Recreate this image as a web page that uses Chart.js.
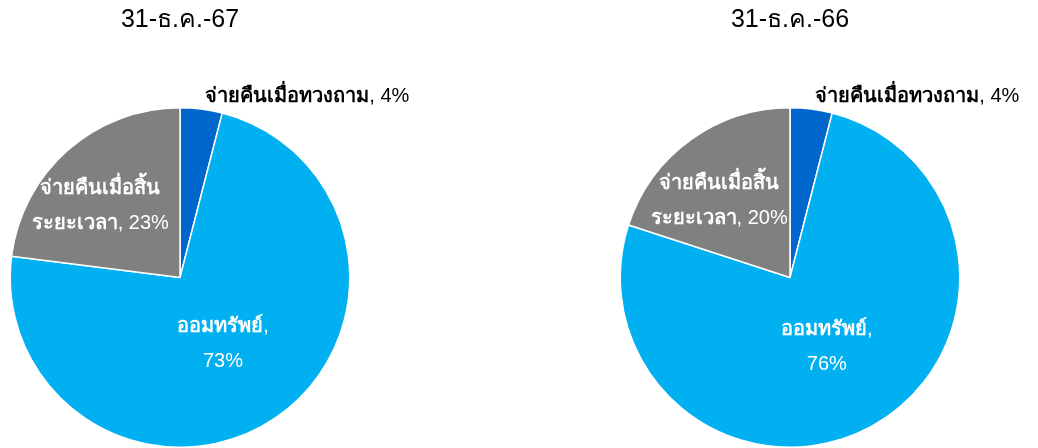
<!DOCTYPE html>
<html>
<head>
<meta charset="utf-8">
<script src="https://cdn.jsdelivr.net/npm/chart.js@4"></script>
<style>
  body { margin: 0; background: #fff; }
  .box { position: absolute; top: 0; width: 519px; height: 448px; }
</style>
</head>
<body>
<div class="box" style="left:0"><canvas id="pie67"></canvas></div>
<div class="box" style="left:519px"><canvas id="pie66"></canvas></div>
<script>
const categories = ["จ่ายคืนเมื่อทวงถาม", "ออมทรัพย์", "จ่ายคืนเมื่อสิ้นระยะเวลา"];
const titles = ["31-ธ.ค.-67", "31-ธ.ค.-66"];
const values67 = [4, 73, 23];
const values66 = [4, 76, 20];
const colors = ["#0066CC", "#00B0F0", "#808080"];

const FONT = "'Liberation Sans', Arial, 'Noto Sans', sans-serif";

// how each label is broken into lines: [text, bold]; "%" marks where the value goes
const labelLayout = [
  [[["จ่ายคืนเมื่อทวงถาม", true], [", %", false]]],
  [[["ออมทรัพย์", true], [",", false]], [["%", false]]],
  [[["จ่ายคืนเมื่อสิ้น", true]], [["ระยะเวลา", true], [", %", false]]]
];
// where the label sits (fraction of radius, x and y) ; null = outside
const labelPos = [null, [0.45, 0.47], [0.71, 0.56]];

function segFont(bold) {
  return (bold ? "bold " : "") + "20px " + FONT;
}

const sliceLabels = {
  id: "sliceLabels",
  afterDatasetsDraw(chart) {
    const ctx = chart.ctx;
    const meta = chart.getDatasetMeta(0);
    const values = chart.data.datasets[0].data;
    ctx.save();
    ctx.textBaseline = "middle";
    ctx.textAlign = "left";
    meta.data.forEach((arc, i) => {
      const p = arc.getProps(["x", "y", "startAngle", "endAngle", "outerRadius"]);
      const mid = (p.startAngle + p.endAngle) / 2;
      const r = p.outerRadius;
      const lines = labelLayout[i].map(line =>
        line.map(([t, b]) => [t.replace("%", values[i] + "%"), b]));
      const widths = lines.map(line => line.reduce((w, [t, b]) => {
        ctx.font = segFont(b);
        return w + ctx.measureText(t).width;
      }, 0));
      const lh = 35;
      let cx, cy, outside = !labelPos[i];
      if (outside) {
        cx = p.x + Math.cos(mid) * r + 4;
        cy = p.y + Math.sin(mid) * r - 13;
        ctx.fillStyle = "#000";
      } else {
        cx = p.x + Math.cos(mid) * r * labelPos[i][0];
        cy = p.y + Math.sin(mid) * r * labelPos[i][1];
        ctx.fillStyle = "#fff";
      }
      lines.forEach((line, k) => {
        let x = outside ? cx : cx - widths[k] / 2;
        const y = cy + (k - (lines.length - 1) / 2) * lh;
        line.forEach(([t, b]) => {
          ctx.font = segFont(b);
          ctx.fillText(t, x, y);
          x += ctx.measureText(t).width;
        });
      });
    });
    ctx.restore();
  }
};

function makePie(id, title, values, padLeft, padRight) {
  new Chart(document.getElementById(id), {
    type: "pie",
    data: {
      labels: categories,
      datasets: [{
        data: values,
        backgroundColor: colors,
        borderColor: "#fff",
        borderWidth: 1.5
      }]
    },
    options: {
      responsive: true,
      maintainAspectRatio: false,
      animation: false,
      layout: { padding: { left: padLeft, right: padRight, top: 0, bottom: 0 } },
      plugins: {
        legend: { display: false },
        tooltip: { enabled: false },
        title: {
          display: true,
          text: title,
          color: "#000",
          font: { family: FONT, size: 25, weight: "normal" },
          padding: { top: 5, bottom: 72 }
        }
      }
    },
    plugins: [sliceLabels]
  });
}

makePie("pie67", titles[0], values67, 9, 168);
makePie("pie66", titles[1], values66, 100, 77);
</script>
</body>
</html>
